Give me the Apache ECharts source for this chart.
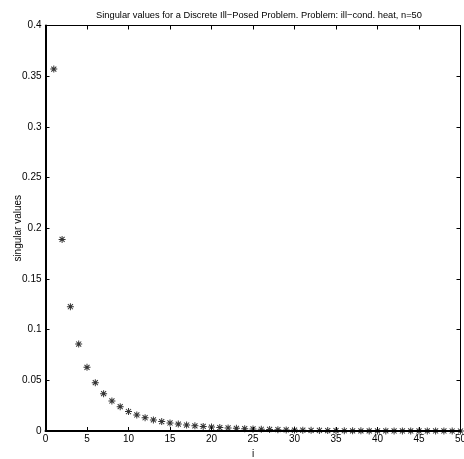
<!DOCTYPE html>
<html>
<head>
<meta charset="utf-8">
<script src="https://cdn.jsdelivr.net/npm/echarts@6/dist/echarts.min.js"></script>
<style>html,body{margin:0;padding:0;background:#fff}#c{width:464px;height:459px}</style>
</head>
<body>
<div id="c"></div>
<script>
var titleText = 'Singular values for a Discrete Ill\u2212Posed Problem. Problem: ill\u2212cond. heat, n=50';
var xLabel = 'i';
var yLabel = 'singular values';
var indices = [];
for (var k = 1; k <= 50; k++) indices.push(k);
var singularValues = [
  0.357, 0.189, 0.1226, 0.0858, 0.0628, 0.0477, 0.0368, 0.0296, 0.0240, 0.0192,
  0.0158, 0.0131, 0.0109, 0.0093, 0.0079, 0.0068, 0.0059, 0.0051, 0.0045, 0.0039,
  0.0034, 0.0030, 0.0026, 0.0023, 0.0020, 0.0017, 0.0015, 0.0013, 0.0011, 0.0009,
  0.00075, 0.00062, 0.0005, 0.0004, 0.00032, 0.00025, 0.0002, 0.00015, 0.00011, 0.00008,
  0.00006, 0.00004, 0.00003, 0.00002, 0.000015, 0.00001, 0.000007, 0.000005, 0.000003, 0.000002
];
var xMin = 0, xMax = 50, xStep = 5;
var yMin = 0, yMax = 0.4, yStep = 0.05;

var points = indices.map(function (v, i) { return [v, singularValues[i]]; });
var font = 'Liberation Sans, Arial, sans-serif';
var asterisk = 'path://M4.3 0h1.4v10h-1.4z M0 4.3h10v1.4h-10z M0.9 1.9L1.9 0.9L9.1 8.1L8.1 9.1z M8.1 0.9L9.1 1.9L1.9 9.1L0.9 8.1z M3 3h4v4h-4z';

var chart = echarts.init(document.getElementById('c'), null, {renderer: 'canvas'});
var axisCommon = {
  type: 'value',
  splitLine: {show: false},
  axisTick: {show: true, inside: true, length: 4, lineStyle: {color: '#000', width: 1}}
};
chart.setOption({
  backgroundColor: '#fff',
  animation: false,
  title: {
    text: titleText, left: 254, top: 6, textAlign: 'center',
    textStyle: {fontFamily: font, fontSize: 9.3, fontWeight: 'normal', color: '#000'}
  },
  grid: {left: 45.5, right: 3.5, top: 25.5, bottom: 28, containLabel: false, outerBoundsMode: 'none'},
  xAxis: [
    Object.assign({}, axisCommon, {
      min: xMin, max: xMax, interval: xStep, position: 'bottom',
      name: xLabel, nameLocation: 'middle', nameGap: 18, nameMoveOverlap: false,
      nameTextStyle: {fontFamily: font, fontSize: 10, color: '#000'},
      axisLine: {show: true, onZero: false, lineStyle: {color: '#000', width: 2}},
      axisLabel: {fontFamily: font, fontSize: 10, color: '#000', margin: 3}
    }),
    Object.assign({}, axisCommon, {
      min: xMin, max: xMax, interval: xStep, position: 'top',
      axisLine: {show: true, onZero: false, lineStyle: {color: '#000', width: 1}},
      axisLabel: {show: false}
    })
  ],
  yAxis: [
    Object.assign({}, axisCommon, {
      min: yMin, max: yMax, interval: yStep, position: 'left',
      name: yLabel, nameLocation: 'middle', nameGap: 22, nameRotate: 90, nameMoveOverlap: false,
      nameTextStyle: {fontFamily: font, fontSize: 10, color: '#000'},
      axisLine: {show: true, onZero: false, lineStyle: {color: '#000', width: 2}},
      axisLabel: {fontFamily: font, fontSize: 10, color: '#000', margin: 4}
    }),
    Object.assign({}, axisCommon, {
      min: yMin, max: yMax, interval: yStep, position: 'right',
      axisLine: {show: true, onZero: false, lineStyle: {color: '#000', width: 1}},
      axisLabel: {show: false}
    })
  ],
  series: [{
    type: 'scatter',
    xAxisIndex: 0, yAxisIndex: 0,
    data: points,
    symbol: asterisk,
    symbolSize: 7,
    itemStyle: {color: '#000'},
    clip: false
  }]
});
</script>
</body>
</html>
